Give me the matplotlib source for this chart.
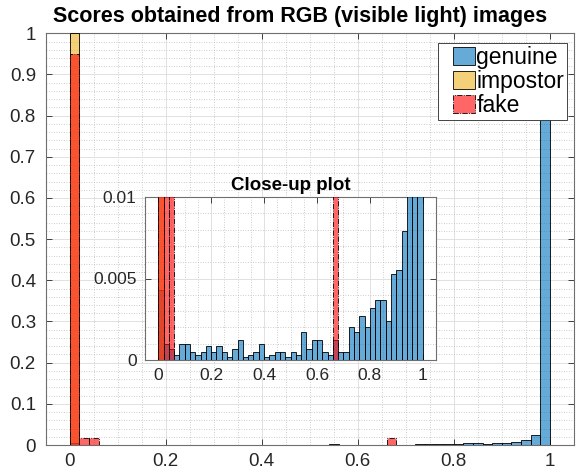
import numpy as np
import matplotlib
matplotlib.use("Agg")
import matplotlib.pyplot as plt
from matplotlib.ticker import MultipleLocator, FixedLocator, FixedFormatter
from matplotlib.patches import Patch, Rectangle
from matplotlib.legend_handler import HandlerPatch

plt.rcParams['font.family'] = ['Liberation Sans', 'DejaVu Sans']

# ---- data (normalised histogram heights, bin width 0.02 starting at 0) ----
bin_width = 0.02
genuine = [0.0043, 0.001, 0.00067, 0.00033, 0.001, 0.001, 0.0005, 0.00033, 0.0005, 0.00083,
           0.0005, 0.00083, 0.0005, 0.00017, 0.00067, 0.0012, 0.00017, 0.00033, 0.0005, 0.001,
           0.00017, 0.00033, 0.0005, 0.0005, 0.00017, 0.0005, 0.00033, 0.0017, 0.00067, 0.0012,
           0.0012, 0.0005, 0.00033, 0.0012, 0.0005, 0.0005, 0.002, 0.0017, 0.0027, 0.002,
           0.0032, 0.0037, 0.0037, 0.0024, 0.0053, 0.0055, 0.0079, 0.011, 0.024, 0.91]
impostor = [0.9999, 0.0, 0.0, 0.00002, 0.00002, 0.00002]
fake = [0.95, 0.0167, 0.0167] + [0.0] * 30 + [0.0167]

series_names = ['genuine', 'impostor', 'fake']
main_xticks = [0, 0.2, 0.4, 0.6, 0.8, 1]
main_xticklabels = ['0', '0.2', '0.4', '0.6', '0.8', '1']
main_yticks = [0, 0.1, 0.2, 0.3, 0.4, 0.5, 0.6, 0.7, 0.8, 0.9, 1]
main_yticklabels = ['0', '0.1', '0.2', '0.3', '0.4', '0.5', '0.6', '0.7', '0.8', '0.9', '1']
inset_yticks = [0, 0.005, 0.01]
inset_yticklabels = ['0', '0.005', '0.01']

title_main = 'Scores obtained from RGB (visible light) images'
title_inset = 'Close-up plot'

# ---- style ----
c_gen = (0.0, 0.447, 0.741, 0.6)
c_imp = (0.929, 0.694, 0.125, 0.6)
c_fake = (1.0, 0.0, 0.0, 0.6)
axcol = '#262626'


def draw(ax):
    for vals, fc, ls in ((genuine, c_gen, '-'), (impostor, c_imp, '-'), (fake, c_fake, '-.')):
        lefts = np.arange(len(vals)) * bin_width
        ax.bar(lefts, vals, width=bin_width, align='edge', color=fc,
               edgecolor='black', linewidth=0.6, linestyle=ls, zorder=3)


def style(ax, fs):
    ax.set_axisbelow(True)
    ax.grid(True, which='major', color='#dcdcdc', linewidth=0.6, linestyle='-', zorder=0)
    ax.grid(True, which='minor', color='#bdbdbd', linewidth=0.6, linestyle=(0, (1, 2)), zorder=0)
    ax.tick_params(which='major', direction='in', length=4, width=0.6, color=axcol,
                   top=True, right=True, labelsize=fs, labelcolor=axcol)
    ax.tick_params(which='minor', length=0, top=True, right=True)
    for s in ax.spines.values():
        s.set_color('#6e6e6e')
        s.set_linewidth(0.8)


def right_patch(legend, orig_handle, xdescent, ydescent, width, height, fontsize):
    pw = 0.64 * width
    return Rectangle((-xdescent + width - pw, -ydescent - 0.05 * height), pw, 1.1 * height)


fig = plt.figure(figsize=(5.77, 4.75), dpi=100)
W, H = 577, 475
ax = fig.add_axes([45.7 / W, (H - 445) / H, 528 / W, 411.7 / H])
draw(ax)
ax.set_xlim(-0.05, 1.05)
ax.set_ylim(0, 1)
ax.xaxis.set_major_locator(FixedLocator(main_xticks))
ax.xaxis.set_major_formatter(FixedFormatter(main_xticklabels))
ax.yaxis.set_major_locator(FixedLocator(main_yticks))
ax.yaxis.set_major_formatter(FixedFormatter(main_yticklabels))
ax.xaxis.set_minor_locator(MultipleLocator(0.05))
ax.yaxis.set_minor_locator(MultipleLocator(0.02))
style(ax, 13.5)
ax.tick_params(axis='x', pad=6)
ax.tick_params(axis='y', pad=7)
ax.set_title(title_main, fontsize=15.5, fontweight='bold', pad=8, color='black', x=0.482)

handles = [Patch(facecolor=c_gen, edgecolor='black', linewidth=0.6),
           Patch(facecolor=c_imp, edgecolor='black', linewidth=0.6),
           Patch(facecolor=c_fake, edgecolor='black', linewidth=0.6, linestyle='-.')]
leg = ax.legend(handles, series_names, loc='upper right', bbox_to_anchor=(0.987, 0.976),
                borderaxespad=0, fontsize=16.5, frameon=True, fancybox=False,
                handlelength=1.5, handleheight=0.72, handletextpad=0.05,
                labelspacing=0.05, borderpad=0.12,
                handler_map={Patch: HandlerPatch(patch_func=right_patch)})
leg.get_frame().set_edgecolor(axcol)
leg.get_frame().set_linewidth(0.6)
leg.get_frame().set_alpha(1)
leg.set_zorder(10)

axi = fig.add_axes([145 / W, (H - 360) / H, 291 / W, 163 / H])
draw(axi)
axi.set_xlim(-0.05, 1.05)
axi.set_ylim(0, 0.01)
axi.xaxis.set_major_locator(FixedLocator(main_xticks))
axi.xaxis.set_major_formatter(FixedFormatter(main_xticklabels))
axi.yaxis.set_major_locator(FixedLocator(inset_yticks))
axi.yaxis.set_major_formatter(FixedFormatter(inset_yticklabels))
axi.xaxis.set_minor_locator(MultipleLocator(0.05))
axi.yaxis.set_minor_locator(MultipleLocator(0.001))
style(axi, 12.5)
axi.tick_params(axis='x', pad=6)
axi.tick_params(axis='y', pad=6)
axi.set_title(title_inset, fontsize=13.5, fontweight='bold', pad=5, color='black')

fig.savefig('out.png', dpi=100, facecolor='white')
